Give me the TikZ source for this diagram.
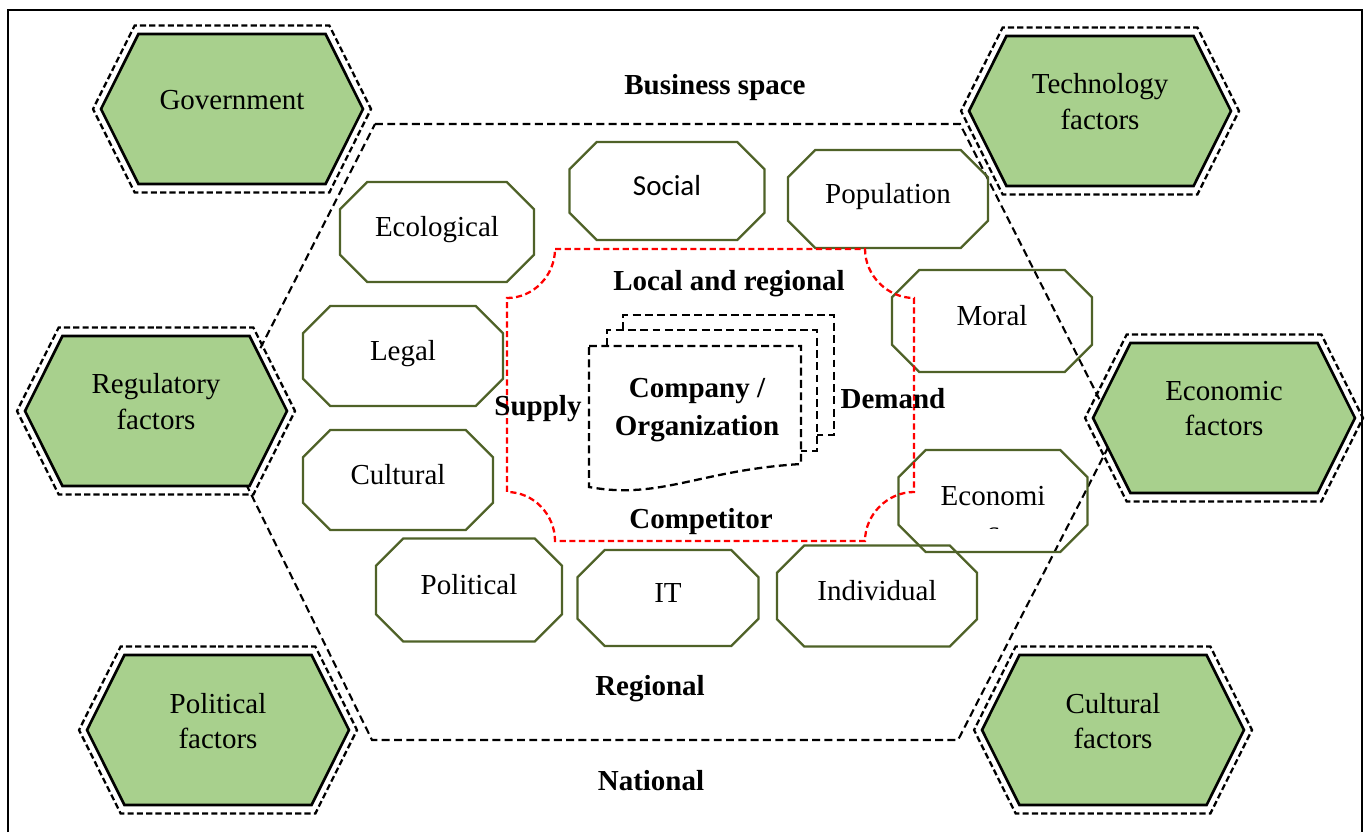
\documentclass[tikz,border=0pt]{standalone}
\usepackage{fontspec}
\setmainfont{Liberation Serif}
\newfontfamily\calibri{Carlito}
\usetikzlibrary{shapes.misc,shapes.symbols}
\definecolor{leafgreen}{RGB}{168,208,141}
\definecolor{olivedark}{RGB}{79,98,40}
\newcommand\bodysize{\fontsize{16.5}{20}\selectfont}
\tikzset{
    factor/.style={signal, signal to=west and east, signal pointer angle=127, draw=black, line width=1.5pt, fill=leafgreen, minimum width=5.24cm, minimum height=3cm, inner sep=0pt, align=center, execute at end node={\rule[-0.38cm]{0pt}{0pt}}},
    factorring/.style={signal, signal to=west and east, signal pointer angle=127, draw=black, dash pattern=on 3.5pt off 1.8pt, line width=1.3pt, minimum width=5.56cm, minimum height=3.34cm, inner sep=0pt},
    aspect/.style={chamfered rectangle, chamfered rectangle xsep=0.54cm, draw=olivedark, line width=1.3pt, minimum height=2cm, text height=0.4cm, text depth=0.24cm},
    tag/.style={font=\bodysize\bfseries, anchor=base},
    regline/.style={draw=black, line width=1.2pt, dash pattern=on 4.5pt off 2.5pt},
    redline/.style={draw=red, line width=1.3pt, dash pattern=on 3.5pt off 2pt},
    docline/.style={draw=black, line width=1.3pt, dash pattern=on 4.5pt off 2.5pt}
}
\begin{document}
\begin{tikzpicture}[x=0.02cm, y=-0.02cm, font=\bodysize]
    \useasboundingbox (0,0) rectangle (1368,832);
    \draw[line width=1.3pt] (8,832) -- (8,10) -- (1362,10) -- (1362,832);

    % regional boundary
    \draw[regline] (375,124) -- (960,124) -- (1116,432) -- (958,740) -- (372,740) -- (219,429) -- cycle;

    % outer factors
    \node[factorring] (govring) at (232,109) {};
    \node[factor] (gov) at (232,109) {Government};
    \node[factorring] (techring) at (1100,111) {};
    \node[factor] (tech) at (1100,111) {Technology\\factors};
    \node[factorring] (regring) at (156,411) {};
    \node[factor] (regf) at (156,411) {Regulatory\\factors};
    \node[factorring] (econring) at (1224,418) {};
    \node[factor] (econf) at (1224,418) {Economic\\factors};
    \node[factorring] (polring) at (218,730) {};
    \node[factor] (polf) at (218,730) {Political\\factors};
    \node[factorring] (cultring) at (1113,730) {};
    \node[factor] (cultf) at (1113,730) {Cultural\\factors};

    % environment aspects
    \node[aspect, minimum width=3.88cm] (ecol) at (437,232) {Ecological};
    \node[aspect, minimum width=3.9cm, minimum height=1.96cm, font=\calibri\bodysize] (soc) at (667,191) {Social};
    \node[aspect, minimum width=4cm, minimum height=1.96cm] (popu) at (888,199) {Population};
    \node[aspect, minimum width=4cm, minimum height=2.04cm] (moral) at (992,321) {Moral};
    \node[aspect, minimum width=4cm] (legal) at (403,356) {Legal};
    \node[aspect, minimum width=3.8cm] (cult) at (398,480) {Cultural};
    \node[aspect, minimum width=3.78cm, minimum height=2.04cm] (econ) at (993,501) {Economi};
    \begin{scope}
        \clip (950,519) rectangle (1040,528);
        \node[anchor=base] (econc) at (993,541) {c};
    \end{scope}
    \node[aspect, minimum width=3.72cm, minimum height=2.06cm] (polit) at (469,590) {Political};
    \node[aspect, minimum width=3.62cm, minimum height=1.92cm] (itn) at (668,598) {IT};
    \node[aspect, minimum width=4cm, minimum height=2.02cm] (indiv) at (877,596) {Individual};

    % local market
    \draw[redline] (555,249) -- (865,249) .. controls (865,275.5) and (887.5,298) .. (914,298) -- (914,492) .. controls (887.5,492) and (865,514.5) .. (865,541) -- (555,541) .. controls (555,514.5) and (533.5,492) .. (507,492) -- (507,298) .. controls (533.5,298) and (555,275.5) .. (555,249) -- cycle;

    % company pages
    \draw[docline] (623,330) -- (623,315) -- (834,315) -- (834,435) -- (817,435);
    \draw[docline] (607,346) -- (607,330) -- (817,330) -- (817,451) -- (801,451);
    \draw[docline] (589,346) -- (801,346) -- (801,464) .. controls (700,470) and (660,500) .. (589,487) -- cycle;
    \node[font=\bodysize\bfseries, align=center] (comp) at (697,410) {Company /\\[1.5pt]Organization};

    \node[tag] (busi) at (715,94) {Business space};
    \node[tag] (locreg) at (729,290) {Local and regional};
    \node[tag] (supply) at (538,415) {Supply};
    \node[tag] (demand) at (893,408) {Demand};
    \node[tag] (compet) at (701,528) {Competitor};
    \node[tag] (regl) at (650,695) {Regional};
    \node[tag] (natl) at (651,790) {National};
\end{tikzpicture}
\end{document}
